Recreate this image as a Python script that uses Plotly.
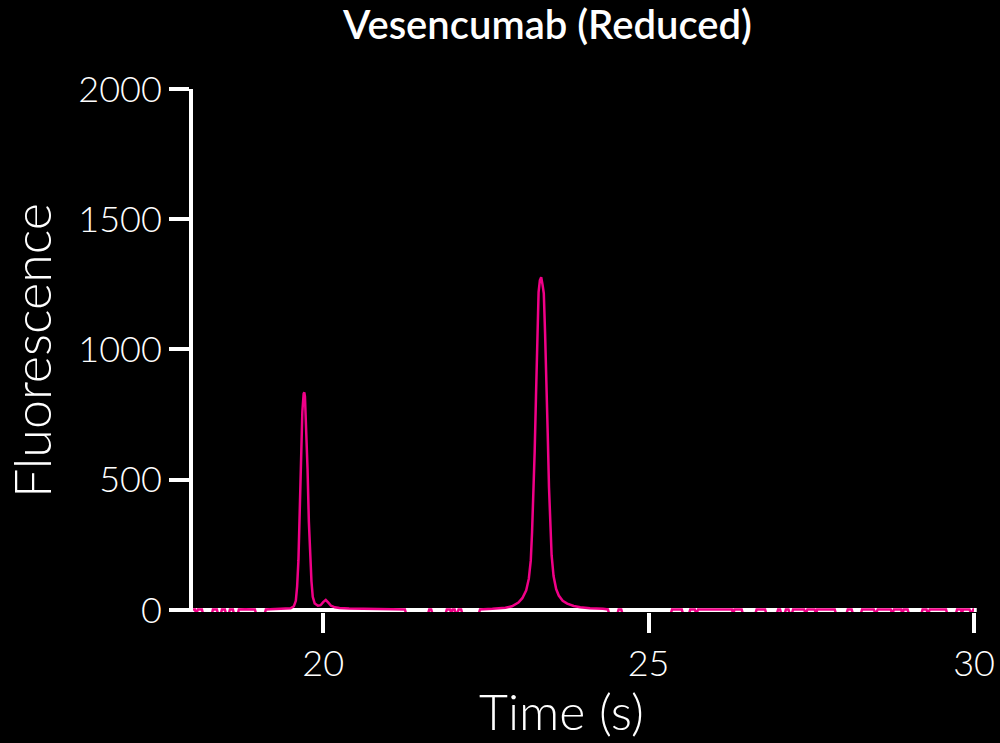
import plotly.graph_objects as go

# Electropherogram trace (time in s, fluorescence in RFU)
time_s = [
    18.00, 18.03, 18.05, 18.075, 18.137, 18.155, 18.29, 18.306, 18.367, 18.385,
    18.428, 18.444, 18.49, 18.508, 18.55, 18.567, 18.613, 18.63, 18.688, 18.705,
    18.80, 18.951, 18.97, 19.10, 19.12, 19.25,
    # peak 1 (light chain) + shoulder
    19.40, 19.50, 19.55, 19.58, 19.60, 19.62, 19.64, 19.66, 19.68, 19.70,
    19.71, 19.72, 19.74, 19.76, 19.78, 19.80, 19.82, 19.84, 19.87, 19.92,
    19.96, 20.00, 20.04, 20.08, 20.12, 20.18, 20.25, 20.40, 20.60, 20.80,
    21.00, 21.20, 21.256,
    21.275, 21.61, 21.63, 21.66, 21.68, 21.88, 21.90, 21.95, 21.97, 21.99,
    22.02, 22.04, 22.06, 22.08, 22.12, 22.14, 22.39, 22.41,
    # peak 2 (heavy chain)
    22.60, 22.80, 22.90, 23.00, 23.06, 23.12, 23.16, 23.19, 23.21, 23.23,
    23.25, 23.27, 23.29, 23.31, 23.33, 23.35, 23.37, 23.39, 23.41, 23.43,
    23.45, 23.47, 23.49, 23.51, 23.54, 23.58, 23.62, 23.68, 23.75, 23.85,
    23.95, 24.10, 24.30, 24.375,
    24.395, 24.52, 24.54, 24.58, 24.60, 25.34, 25.36, 25.51, 25.53, 25.62,
    25.64, 25.71, 25.735, 25.76, 26.28, 26.30, 26.32, 26.43, 26.45, 26.64,
    26.66, 26.79, 26.81, 26.97, 26.99, 27.02, 27.04, 27.09, 27.11, 27.15,
    27.17, 27.20, 27.22, 27.39, 27.415, 27.44, 27.55, 27.575, 27.59, 27.86,
    27.88, 28.04, 28.06, 28.12, 28.14, 28.26, 28.28, 28.46, 28.49, 28.52,
    28.72, 28.745, 28.77, 28.88, 28.90, 28.92, 28.98, 29.00, 29.19, 29.21,
    29.27, 29.295, 29.32, 29.57, 29.59, 29.72, 29.74, 29.80, 29.815, 29.83,
    29.93, 29.96, 29.99, 30.00,
]
fluorescence = [
    2, 2, -16, 2, 2, -16, -16, 2, 2, -16,
    -16, 2, 2, -16, -16, 2, 2, -16, -16, 2,
    3, 2, -16, -16, 2, 3,
    3, 6, 14, 35, 90, 190, 380, 600, 760, 830,
    835, 820, 710, 540, 340, 200, 110, 50, 25, 16,
    18, 30, 38, 28, 16, 10, 7, 5, 4, 4,
    3, 2.5, 2,
    -16, -16, 2, 2, -16, -16, 2, 2, -16, 2,
    2, -16, -16, 2, 2, -16, -16, 2,
    4, 8, 14, 28, 45, 75, 120, 190, 300, 430,
    610, 820, 1020, 1220, 1265, 1277, 1250, 1215, 1060, 900,
    680, 470, 320, 210, 130, 80, 55, 35, 24, 15,
    10, 6, 4, 2,
    -16, -16, 2, 2, -16, -16, 2, 2, -16, -16,
    2, 2, -16, 2, 2, -16, 2, 2, -16, -16,
    2, 2, -16, -16, 2, 2, -16, -16, 2, 2,
    -16, -16, 2, 2, -16, 2, 2, -16, 2, 2,
    -16, -16, 2, 2, -16, -16, 2, 2, -16, 2,
    2, -16, 2, 2, -16, 2, 2, -16, -16, 2,
    2, -16, 2, 2, -16, -16, 2, 2, -16, 2,
    2, -16, 2, 2,
]

x_ticks = [20, 25, 30]
y_ticks = [0, 500, 1000, 1500, 2000]

PINK = "#F00087"
FONT = "Lato"

fig = go.Figure()
fig.add_trace(go.Scatter(
    x=time_s, y=fluorescence, mode="lines",
    line=dict(color=PINK, width=2.5),
    hoverinfo="skip", showlegend=False,
))

# x-axis baseline drawn beneath the trace
fig.add_shape(type="line", xref="paper", yref="y",
              x0=-0.0051, x1=1.0035, y0=0, y1=0,
              line=dict(color="white", width=4), layer="below")

# x-axis title (placed as in the reference)
fig.add_annotation(text="Time (s)", xref="paper", yref="paper",
                   x=(561 - 193) / 781, y=-(711 - 612) / 523,
                   xanchor="center", yanchor="middle", showarrow=False,
                   font=dict(family=FONT, size=50, color="white", weight=300))

fig.update_layout(
    width=1000, height=743,
    paper_bgcolor="black", plot_bgcolor="black",
    margin=dict(l=193, r=26, t=89, b=131, autoexpand=False),
    title=dict(text="Vesencumab (Reduced)", x=0.5475, xref="container", xanchor="center",
               y=0.985, yref="container", yanchor="top",
               font=dict(family=FONT, size=40, color="white", weight=600)),
    xaxis=dict(range=[18, 30], tickvals=x_ticks, ticks="outside", ticklen=20, tickwidth=4,
               tickcolor="white", showline=False, showgrid=False, zeroline=False,
               automargin=False,
               tickfont=dict(family=FONT, size=36, color="white", weight=300)),
    yaxis=dict(range=[-8, 2000], tickvals=y_ticks, ticks="outside", ticklen=20, tickwidth=4,
               tickcolor="white", showline=True, linewidth=4, linecolor="white",
               showgrid=False, zeroline=False, automargin=False,
               tickfont=dict(family=FONT, size=36, color="white", weight=300),
               title=dict(text="Fluorescence", standoff=12,
                          font=dict(family=FONT, size=52, color="white", weight=300))),
)

fig.write_html("out.html")
